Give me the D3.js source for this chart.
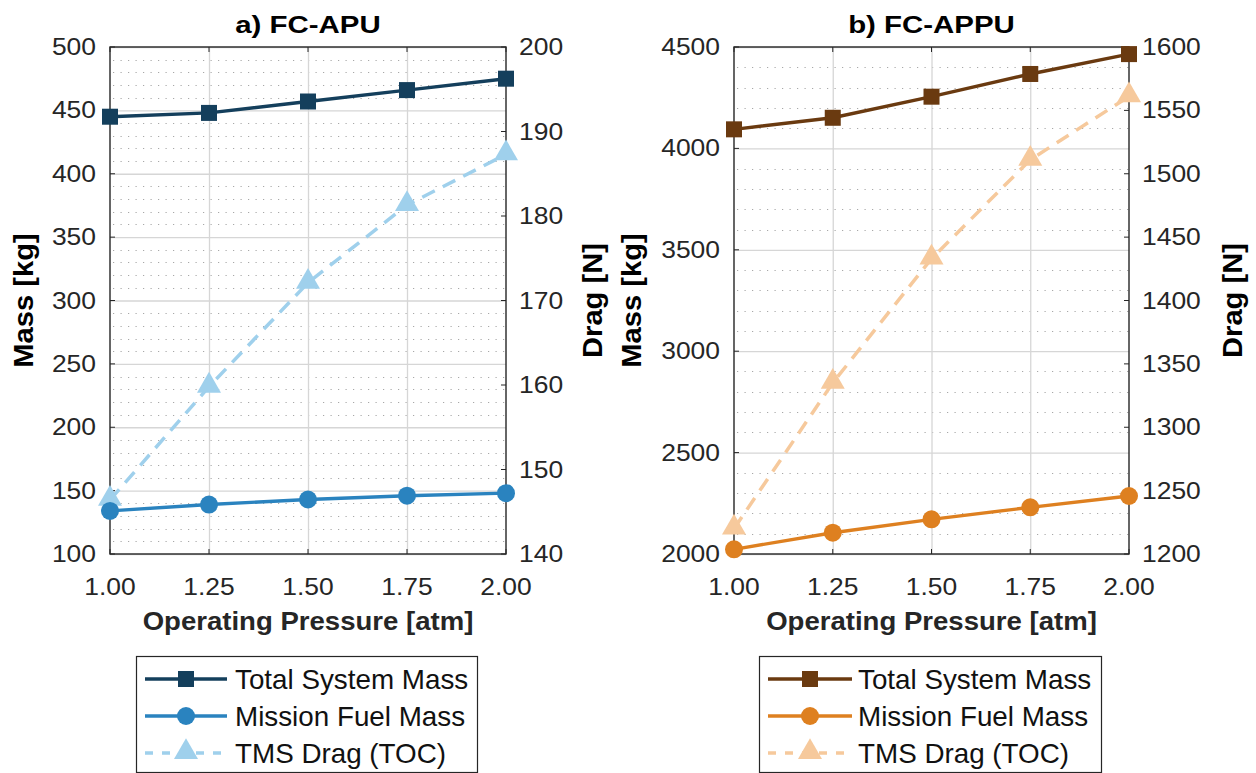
<!DOCTYPE html>
<html>
<head>
<meta charset="utf-8">
<script src="https://cdn.jsdelivr.net/npm/d3@7"></script>
<style>
  html, body { margin: 0; padding: 0; background: #fff; }
  svg { display: block; }
  text { font-family: "Liberation Sans", Arial, Helvetica, sans-serif; }
</style>
</head>
<body>
<svg id="chart" width="1256" height="773"></svg>
<script>
// Operating pressure sweep [atm]
const pressures = [1.00, 1.25, 1.50, 1.75, 2.00];
const pressureTickLabels = ["1.00", "1.25", "1.50", "1.75", "2.00"];

// a) FC-APU
const apuTotalMass = [445, 448, 457, 466, 475];
const apuFuelMass = [134, 139, 143, 146, 148];
const apuDrag = [146.4, 159.8, 172.1, 181.3, 187.3];
const apuMassTicks = [100, 150, 200, 250, 300, 350, 400, 450, 500];
const apuDragTicks = [140, 150, 160, 170, 180, 190, 200];

// b) FC-APPU
const appuTotalMass = [4094, 4151, 4255, 4367, 4465];
const appuFuelMass = [2023, 2105, 2171, 2230, 2286];
const appuDrag = [1220, 1335, 1433, 1511, 1561];
const appuMassTicks = [2000, 2500, 3000, 3500, 4000, 4500];
const appuDragTicks = [1200, 1250, 1300, 1350, 1400, 1450, 1500, 1550, 1600];

const seriesNames = ["Total System Mass", "Mission Fuel Mass", "TMS Drag (TOC)"];

const panels = [
  {
    title: "a) FC-APU",
    x0: 110, x1: 506,
    massTicks: apuMassTicks, massMinor: 10,
    dragTicks: apuDragTicks,
    total: apuTotalMass, fuel: apuFuelMass, drag: apuDrag,
    colors: { total: "#143f5c", fuel: "#2a83bf", drag: "#9fd0ec" },
    massLabelX: 23, dragLabelX: 592,
    legend: { x: 136, w: 341, lineX0: 145, lineX1: 227, textX: 235 }
  },
  {
    title: "b) FC-APPU",
    x0: 734, x1: 1129,
    massTicks: appuMassTicks, massMinor: 100,
    dragTicks: appuDragTicks,
    total: appuTotalMass, fuel: appuFuelMass, drag: appuDrag,
    colors: { total: "#6a3a10", fuel: "#de8020", drag: "#f6c99c" },
    massLabelX: 631, dragLabelX: 1232,
    legend: { x: 759, w: 342, lineX0: 768, lineX1: 852, textX: 858 }
  }
];

const svg = d3.select("#chart");
const TOP = 47, BOTTOM = 554;
const INK = "#262626";
const TICK_FONT = 23, TICK_SX = 1.15;

// Text helper: anchor point with optional horizontal stretch
function label(g, x, y, str, opts) {
  const o = Object.assign({ size: 23, weight: "normal", anchor: "middle", sx: 1, rotate: 0, fill: INK }, opts || {});
  return g.append("text")
    .attr("transform", `translate(${x},${y}) rotate(${o.rotate}) scale(${o.sx},1)`)
    .attr("text-anchor", o.anchor)
    .attr("font-size", o.size)
    .attr("font-weight", o.weight)
    .attr("fill", o.fill)
    .text(str);
}

function drawMarker(g, kind, cx, cy, color) {
  if (kind === "square") {
    g.append("rect").attr("x", cx - 8).attr("y", cy - 8)
      .attr("width", 16).attr("height", 16).attr("fill", color);
  } else if (kind === "circle") {
    g.append("circle").attr("cx", cx).attr("cy", cy).attr("r", 9).attr("fill", color);
  } else {
    const s = d3.symbol().type(d3.symbolTriangle).size(250);
    g.append("path").attr("d", s()).attr("transform", `translate(${cx},${cy - 1})`).attr("fill", color);
  }
}

panels.forEach(p => {
  const g = svg.append("g");
  const x = d3.scaleLinear().domain([1, 2]).range([p.x0, p.x1]);
  const yM = d3.scaleLinear().domain(d3.extent(p.massTicks)).range([BOTTOM, TOP]);
  const yD = d3.scaleLinear().domain(d3.extent(p.dragTicks)).range([BOTTOM, TOP]);

  // minor horizontal grid (dotted)
  const [m0, m1] = yM.domain();
  const minor = d3.range(m0, m1 + 1e-9, p.massMinor).filter(v => !p.massTicks.includes(v));
  g.append("g").selectAll("line").data(minor).join("line")
    .attr("x1", p.x0 + 3).attr("x2", p.x1)
    .attr("y1", d => Math.round(yM(d)) + 0.5).attr("y2", d => Math.round(yM(d)) + 0.5)
    .attr("stroke", "#a8a8a8").attr("stroke-width", 1.1).attr("stroke-dasharray", "1.2,6.3");

  // major grid
  g.append("g").call(d3.axisLeft(yM).tickValues(p.massTicks).tickSize(-(p.x1 - p.x0)).tickFormat(""))
    .attr("transform", `translate(${p.x0},0)`)
    .call(a => a.select(".domain").remove())
    .call(a => a.selectAll("line").attr("stroke", "#d6d6d6").attr("stroke-width", 1.3));
  g.append("g").call(d3.axisBottom(x).tickValues(pressures.slice(1, -1)).tickSize(-(BOTTOM - TOP)).tickFormat(""))
    .attr("transform", `translate(0,${BOTTOM})`)
    .call(a => a.select(".domain").remove())
    .call(a => a.selectAll("line").attr("stroke", "#d6d6d6").attr("stroke-width", 1.3));

  // frame
  g.append("rect").attr("x", p.x0).attr("y", TOP).attr("width", p.x1 - p.x0).attr("height", BOTTOM - TOP)
    .attr("fill", "none").attr("stroke", INK).attr("stroke-width", 1.4);

  // inward ticks
  const tl = 5;
  g.append("g").selectAll("line").data(pressures).join("line")
    .attr("x1", d => x(d)).attr("x2", d => x(d)).attr("y1", BOTTOM).attr("y2", BOTTOM - tl)
    .attr("stroke", INK);
  g.append("g").selectAll("line").data(pressures).join("line")
    .attr("x1", d => x(d)).attr("x2", d => x(d)).attr("y1", TOP).attr("y2", TOP + tl)
    .attr("stroke", INK);
  g.append("g").selectAll("line").data(p.massTicks).join("line")
    .attr("x1", p.x0).attr("x2", p.x0 + tl).attr("y1", d => yM(d)).attr("y2", d => yM(d))
    .attr("stroke", INK);
  g.append("g").selectAll("line").data(p.dragTicks).join("line")
    .attr("x1", p.x1).attr("x2", p.x1 - tl).attr("y1", d => yD(d)).attr("y2", d => yD(d))
    .attr("stroke", INK);

  // tick labels
  pressures.forEach((v, i) => label(g, x(v), 595, pressureTickLabels[i], { size: TICK_FONT, sx: TICK_SX }));
  p.massTicks.forEach(v => label(g, p.x0 - 14, yM(v) + 8, String(v), { size: TICK_FONT, sx: TICK_SX, anchor: "end" }));
  p.dragTicks.forEach(v => label(g, p.x1 + 13, yD(v) + 8, String(v), { size: TICK_FONT, sx: TICK_SX, anchor: "start" }));

  // titles and axis labels
  const cx = (p.x0 + p.x1) / 2;
  label(g, cx, 33, p.title, { size: 23, weight: "bold", sx: 1.28, fill: "#000" });
  label(g, cx, 630, "Operating Pressure [atm]", { size: 26, weight: "bold", sx: 1.06 });
  label(g, p.massLabelX + 10, (TOP + BOTTOM) / 2, "Mass [kg]", { size: 27, weight: "bold", rotate: -90, sx: 1.08, fill: "#000" });
  label(g, p.dragLabelX + 10, (TOP + BOTTOM) / 2, "Drag [N]", { size: 27, weight: "bold", rotate: -90, sx: 1.08, fill: "#000" });

  // series
  const line = ys => d3.line().x((d, i) => x(pressures[i])).y(d => ys(d));
  g.append("path").datum(p.drag).attr("d", line(yD)).attr("fill", "none")
    .attr("stroke", p.colors.drag).attr("stroke-width", 3.5).attr("stroke-dasharray", "14,9");
  p.drag.forEach((v, i) => drawMarker(g, "triangle", x(pressures[i]), yD(v), p.colors.drag));

  g.append("path").datum(p.fuel).attr("d", line(yM)).attr("fill", "none")
    .attr("stroke", p.colors.fuel).attr("stroke-width", 3.4);
  p.fuel.forEach((v, i) => drawMarker(g, "circle", x(pressures[i]), yM(v), p.colors.fuel));

  g.append("path").datum(p.total).attr("d", line(yM)).attr("fill", "none")
    .attr("stroke", p.colors.total).attr("stroke-width", 3.4);
  p.total.forEach((v, i) => drawMarker(g, "square", x(pressures[i]), yM(v), p.colors.total));

  // legend
  const L = p.legend;
  const lg = svg.append("g");
  lg.append("rect").attr("x", L.x + 0.5).attr("y", 656.5).attr("width", L.w).attr("height", 116)
    .attr("fill", "#fff").attr("stroke", INK).attr("stroke-width", 1.2);
  const rows = [
    { name: seriesNames[0], color: p.colors.total, kind: "square", dash: null, y: 679 },
    { name: seriesNames[1], color: p.colors.fuel, kind: "circle", dash: null, y: 716 },
    { name: seriesNames[2], color: p.colors.drag, kind: "triangle", dash: "8,9", y: 753 }
  ];
  const mid = (L.lineX0 + L.lineX1) / 2;
  rows.forEach(r => {
    const ln = lg.append("line").attr("x1", L.lineX0).attr("x2", L.lineX1).attr("y1", r.y).attr("y2", r.y)
      .attr("stroke", r.color).attr("stroke-width", 3.4);
    if (r.dash) ln.attr("stroke-dasharray", r.dash);
    drawMarker(lg, r.kind, mid, r.y, r.color);
    label(lg, L.textX, r.y + 10, r.name, { size: 27, anchor: "start", sx: 1.03, fill: "#111" });
  });
});
</script>
</body>
</html>
